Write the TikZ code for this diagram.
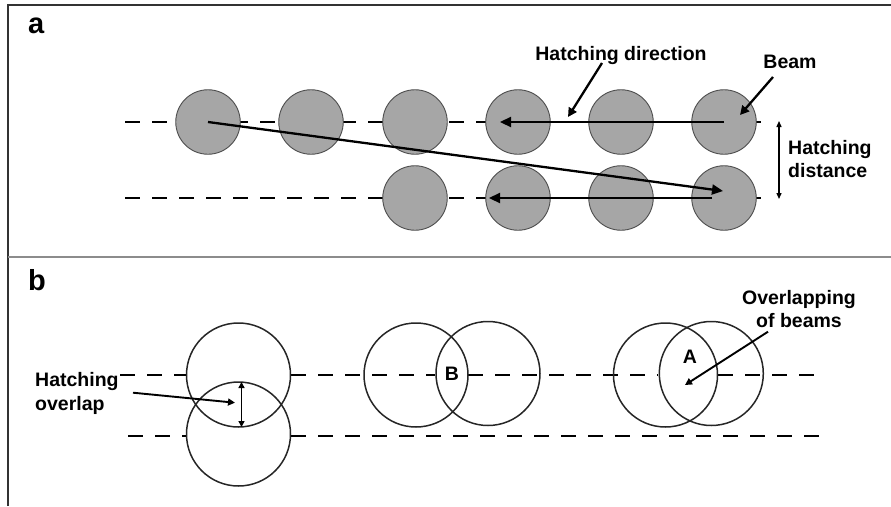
\documentclass[tikz,border=0pt]{standalone}
\usepackage{fontspec}
\setmainfont{Liberation Sans}
\usetikzlibrary{arrows.meta}
\definecolor{beamgray}{RGB}{166,166,166}
\begin{document}
\begin{tikzpicture}[x=1pt,y=-1pt,
  beam/.style={circle,draw=black!70,line width=0.9pt,fill=beamgray,minimum size=64.5pt,inner sep=0pt,outer sep=0pt},
  ring/.style={circle,draw=black!85,line width=1.5pt,minimum size=104pt,inner sep=0pt,outer sep=0pt},
  scan/.style={dash pattern=on 15pt off 12pt,line width=2.5pt},
  bigarrow/.style={line width=2.3pt,-{Triangle[length=11pt,width=10pt]}},
  midarrow/.style={line width=2.3pt,-{Triangle[length=9pt,width=9pt]}},
  smallarrow/.style={line width=1.9pt,-{Triangle[length=7pt,width=7pt]}},
  lbl/.style={font=\bfseries\fontsize{19.5}{23}\selectfont,inner sep=0pt,anchor=base},
  panel/.style={font=\bfseries\fontsize{29}{32}\selectfont,inner sep=0pt,anchor=base west},
]
\useasboundingbox (0,0) rectangle (891,506);
% frame
\draw[line width=1.2pt,black!80] (8,506) -- (8,5) -- (891,5);
\draw[line width=1.3pt,black!45] (8,257) -- (891,257);

% ---------- panel a ----------
\node[panel] (la) at (28,33) {a};
\coordinate (s1a) at (125,122); \coordinate (s1b) at (770,122);
\coordinate (s2a) at (125,198); \coordinate (s2b) at (770,198);
\draw[scan] (s1a) -- (s1b);
\draw[scan] (s2a) -- (s2b);
\foreach \i/\x in {1/208,2/311,3/415,4/518,5/621,6/724}
  \node[beam] (t\i) at (\x,122) {};
\foreach \i/\x in {3/415,4/518,5/621,6/724}
  \node[beam] (u\i) at (\x,198) {};

\coordinate (diagend) at (723,191);
\coordinate (r1end) at (500,122);
\coordinate (r2start) at (712,198);
\coordinate (r2end) at (489,198);
\draw[bigarrow] (t1.center) -- (diagend);
\draw[bigarrow] (t6.center) -- (r1end);
\draw[bigarrow] (r2start) -- (r2end);

\node[lbl] (hdir) at (621,60) {Hatching direction};
\coordinate (hdirfrom) at (602,63);
\coordinate (hdirto) at (568,117);
\draw[midarrow] (hdirfrom) -- (hdirto);

\node[lbl] (beamlbl) at (790,68.3) {Beam};
\coordinate (beamfrom) at (773,77);
\coordinate (beamto) at (740,115);
\draw[midarrow] (beamfrom) -- (beamto);

\node[lbl,anchor=base west] (hdist1) at (788,154) {Hatching};
\node[lbl,anchor=base west] (hdist2) at (788,177) {distance};
\coordinate (hdtop) at (779,121);
\coordinate (hdbot) at (779,199);
\draw[line width=1.3pt,{Triangle[length=6pt,width=5pt]}-{Triangle[length=6pt,width=5pt]}] (hdtop) -- (hdbot);

% ---------- panel b ----------
\node[panel] (lb) at (28,290) {b};
% scan lines (interrupted)
\draw[scan] (120,375) -- (186,375);
\draw[scan] (291,375) -- (435,375);
\draw[scan] (468,375) -- (658,375);
\draw[scan] (718,375) -- (818,375);
\draw[scan] (128,436) -- (186,436);
\draw[scan] (291,436) -- (828,436);

\node[ring] (p1) at (238.5,375) {};
\node[ring] (p2) at (238.5,434) {};
\node[ring] (q1) at (416,375) {};
\node[ring] (q2) at (488,373.5) {};
\node[ring] (w1) at (665.5,375) {};
\node[ring] (w2) at (711.3,373.5) {};

\draw[line width=1.7pt,{Triangle[length=6pt,width=6pt]}-{Triangle[length=6pt,width=6pt]}]
  ([xshift=3pt]p2.north) -- ([xshift=3pt]p1.south);

\node[lbl,anchor=base west] (ho1) at (35,386.7) {Hatching};
\node[lbl,anchor=base west] (ho2) at (35,410.7) {overlap};
\coordinate (hofrom) at (133,392.7);
\coordinate (hoto) at (235,402.7);
\draw[smallarrow] (hofrom) -- (hoto);

\node[lbl] (Blbl) at (452,380) {B};
\node[lbl] (Albl) at (690,363.3) {A};

\node[lbl] (ob1) at (799,304) {Overlapping};
\node[lbl] (ob2) at (799,327.3) {of beams};
\coordinate (obfrom) at (768,331.7);
\coordinate (obto) at (685,385);
\draw[smallarrow] (obfrom) -- (obto);
\end{tikzpicture}
\end{document}
